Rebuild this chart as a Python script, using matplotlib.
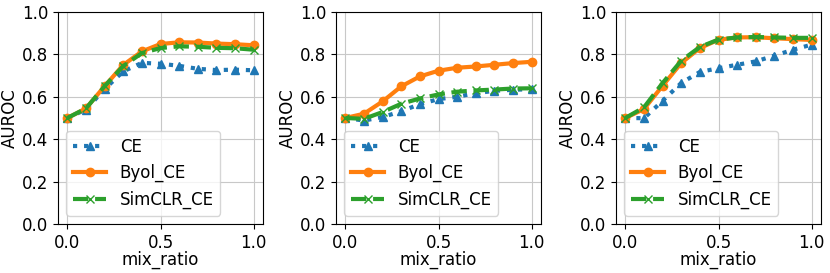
import matplotlib
matplotlib.use("Agg")
import matplotlib.pyplot as plt
import numpy as np

mix_ratio = np.round(np.arange(0, 1.01, 0.1), 1)

# panel 1
ce_1 = [0.50, 0.54, 0.636, 0.72, 0.76, 0.756, 0.746, 0.732, 0.726, 0.728, 0.725]
byol_1 = [0.50, 0.545, 0.65, 0.75, 0.814, 0.849, 0.857, 0.856, 0.851, 0.848, 0.843]
simclr_1 = [0.50, 0.545, 0.65, 0.745, 0.806, 0.83, 0.838, 0.836, 0.831, 0.829, 0.822]

# panel 2
ce_2 = [0.50, 0.488, 0.504, 0.532, 0.565, 0.589, 0.60, 0.617, 0.628, 0.633, 0.636]
byol_2 = [0.50, 0.52, 0.578, 0.649, 0.696, 0.723, 0.737, 0.743, 0.751, 0.759, 0.765]
simclr_2 = [0.50, 0.496, 0.528, 0.567, 0.592, 0.611, 0.624, 0.63, 0.634, 0.639, 0.64]

# panel 3
ce_3 = [0.50, 0.499, 0.581, 0.665, 0.717, 0.735, 0.751, 0.767, 0.794, 0.822, 0.846]
byol_3 = [0.50, 0.542, 0.652, 0.759, 0.83, 0.869, 0.88, 0.881, 0.876, 0.872, 0.868]
simclr_3 = [0.50, 0.55, 0.665, 0.77, 0.835, 0.87, 0.88, 0.882, 0.88, 0.878, 0.878]

panels = [(ce_1, byol_1, simclr_1), (ce_2, byol_2, simclr_2), (ce_3, byol_3, simclr_3)]
lefts = [58 / 830, 336 / 830, 616 / 830]

plt.rcParams["font.size"] = 12

fig = plt.figure(figsize=(8.3, 2.73), dpi=100)
for left, (ce, byol, simclr) in zip(lefts, panels):
    ax = fig.add_axes([left, 0.1795, 205 / 830, 0.7766])
    ax.plot(mix_ratio, ce, ":", marker="^", color="tab:blue", lw=3, ms=6, label="CE")
    ax.plot(mix_ratio, byol, "-", marker="o", color="tab:orange", lw=3, ms=6, label="Byol_CE")
    ax.plot(mix_ratio, simclr, "--", marker="x", color="tab:green", lw=3, ms=6, label="SimCLR_CE")
    ax.set_ylim(0, 1.0)
    ax.set_xticks([0.0, 0.5, 1.0])
    ax.set_xlabel("mix_ratio", labelpad=-1)
    ax.set_ylabel("AUROC", labelpad=2)
    ax.grid(True, color="#c8c8c8")
    ax.legend(loc="lower left")

plt.savefig("out.png", dpi=100)
